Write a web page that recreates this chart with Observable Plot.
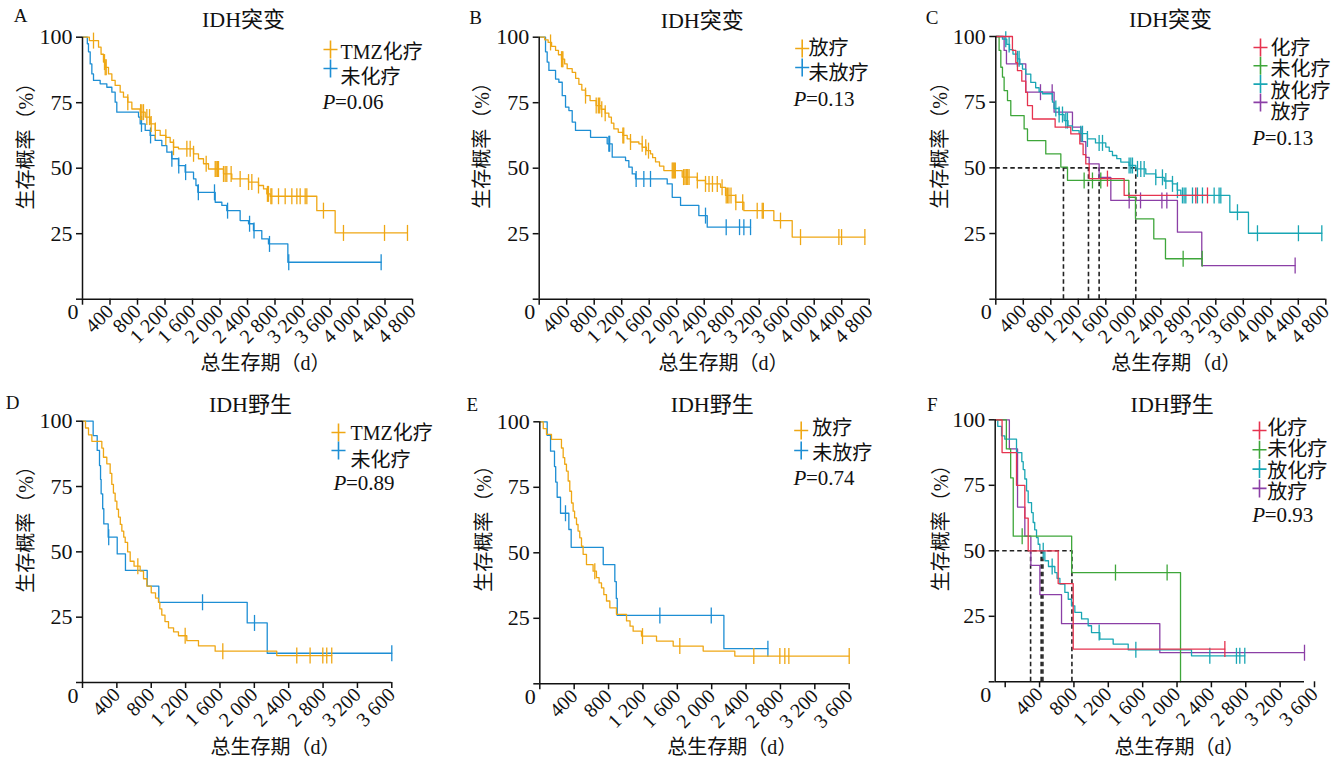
<!DOCTYPE html>
<html><head><meta charset="utf-8">
<script src="https://cdn.jsdelivr.net/npm/d3@7"></script>
<script src="https://cdn.jsdelivr.net/npm/@observablehq/plot@0.6"></script>
<style>
body{margin:0;background:#fff;}
#root{position:relative;width:1344px;height:760px;overflow:hidden;background:#fff;}
#root svg{position:absolute;}
</style></head><body><div id="root"></div>
<script>
// ---------------- DATA ----------------
const ticksLong = [0,400,800,1200,1600,2000,2400,2800,3200,3600,4000,4400,4800];
const ticksShort = [0,400,800,1200,1600,2000,2400,2800,3200,3600];
const yTicks = [0,25,50,75,100];
const titles = ["IDH突变","IDH突变","IDH突变","IDH野生","IDH野生","IDH野生"];
const letters = ["A","B","C","D","E","F"];
const pValues = ["0.06","0.13","0.13","0.89","0.74","0.93"];
const xAxisLabel = "总生存期（d）";
const yAxisLabel = "生存概率（%）";

// Panel A
const A_tmz_ev = [[0,100],[100,98.7],[233,96.2],[270,93.5],[305,90.5],[330,88.5],[378,86],[427,83.5],[475,81.6],[548,79],[596,77.1],[659,75.2],[718,72.6],[839,71.4],[912,69.5],[984,66.9],[1057,64.4],[1130,62.5],[1212,61.8],[1275,59.9],[1324,58],[1396,57.4],[1615,55.5],[1687,53.6],[1760,51.7],[1833,49.7],[2051,47.8],[2172,45.9],[2415,44.7],[2560,43.4],[2633,42.1],[2681,40.2],[2730,39.3],[3408,33.8],[3675,25.3]];
const A_tmz_cz = [160,320,330,345,659,845,863,887,936,975,999,1060,1212,1324,1518,1566,1615,1799,1930,1944,1964,1978,2051,2075,2099,2162,2293,2415,2463,2560,2690,2705,2740,2754,2851,2948,3045,3118,3166,3239,3263,3505,3796,4393,4727];
const A_no_ev = [[0,100],[70,97.5],[87,94.4],[112,89.8],[136,86],[160,83.5],[257,82.2],[354,80.9],[427,79],[475,75.2],[499,71.4],[815,69.5],[839,66.9],[912,64.4],[984,62.5],[1057,60.6],[1154,58.6],[1227,56.1],[1299,53.6],[1396,51],[1493,48.5],[1615,45.9],[1650,43.4],[1678,40.8],[1930,37],[2027,35.8],[2099,33.8],[2293,30],[2415,28.8],[2487,26.2],[2608,23],[2705,21.1],[2987,14.1]];
const A_no_cz = [858,990,1300,1400,1500,1685,1920,2110,2430,2495,2720,3000,4344];

// Panel B
const B_rt_ev = [[0,100],[80,99],[130,98],[180,96.5],[238,95],[280,93.3],[325,91.6],[370,89.8],[407,88],[480,86.6],[530,84.3],[577,82],[620,79.8],[674,77.7],[740,75.8],[829,73.9],[900,72.5],[960,71],[1013,69.5],[1050,67.2],[1086,65],[1150,63.7],[1217,62.5],[1280,61.2],[1328,60],[1450,59.3],[1500,58],[1560,56.7],[1619,55.5],[1650,54],[1692,52.4],[1750,50.8],[1813,49.1],[2080,46.6],[2298,45.3],[2419,44],[2638,42.7],[2710,39.6],[2856,37],[2977,33.8],[3413,30],[3680,23.7]];
const B_rt_cz = [165,325,335,345,674,829,860,880,910,960,1217,1230,1328,1498,1550,1590,1935,1950,1965,1980,2100,2120,2140,2160,2180,2300,2419,2470,2520,2590,2660,2720,2740,2760,2790,2860,2960,3171,3244,3260,3510,3801,4359,4398,4737];
const B_no_ev = [[0,100],[92,94.4],[116,90.5],[141,87.3],[238,84],[286,82.8],[335,77.7],[383,73.3],[432,72],[480,67.6],[528,64.4],[747,61.8],[989,59.3],[1062,54.2],[1256,52.9],[1304,50.4],[1353,47.8],[1401,45.9],[1862,44],[1935,38.9],[2056,35.8],[2322,31.9],[2444,27.5]];
const B_no_cz = [1013,1025,1410,1522,1619,2419,2720,2914,2977,3074];

// Panel C
const C_chemo_ev = [[0,100],[242,94.7],[291,90],[315,87],[378,83],[436,78.7],[461,73.7],[533,68.6],[863,65.5],[1091,62.9],[1222,59.1],[1270,55],[1309,51.5],[1358,45.9],[1867,39.5]];
const C_chemo_cz = [1624,2909,3079];
const C_none_ev = [[0,100],[48,94.7],[73,88.3],[97,84.5],[121,79.4],[170,75.6],[218,69.9],[412,64.8],[461,60.4],[727,55.3],[946,50.3],[1043,45.2],[1935,38.8],[2032,30.6],[2298,23],[2468,15.4]];
const C_none_cz = [1285,1406,1527,2725,3002];
const C_both_ev = [[0,100],[97,99],[160,97],[200,95],[250,93.3],[315,91.5],[350,89.5],[388,87.6],[436,85.7],[509,82.5],[580,80.5],[630,79],[679,78.2],[824,75],[848,72.6],[920,70.3],[994,68],[1050,66],[1115,64.2],[1212,63],[1333,61],[1450,59.5],[1600,57.9],[1650,56.3],[1697,54.7],[1760,53.5],[1818,52.2],[1939,50.9],[2036,49.6],[2182,47.7],[2327,46.4],[2450,45],[2570,43.9],[2640,41.5],[2691,39.5],[3404,33.1],[3675,25.1]];
const C_both_cz = [145,194,315,339,873,921,970,1018,1042,1236,1261,1333,1503,1552,1939,1964,1988,2061,2109,2158,2327,2424,2473,2570,2642,2715,2739,2764,2861,2933,3006,3176,3248,3273,3515,3806,4402,4742];
const C_rt_ev = [[0,100],[121,94.7],[155,89.6],[436,78.8],[848,71.2],[1115,65.5],[1240,60],[1309,54],[1358,51.5],[1503,46.4],[1673,37.6],[2642,25.5],[2996,12.8]];
const C_rt_cz = [650,820,1940,2105,2416,2488,4354];
const C_medians = [984,1348,1503,2036];

// Panel D
const D_tmz_ev = [[0,100],[35,97.4],[70,94.8],[109,92.3],[225,89.7],[244,86.2],[283,83.7],[322,80],[341,75.8],[360,72.5],[380,69.4],[400,66.3],[419,63.3],[440,60.5],[458,57.9],[480,55.6],[497,53.6],[525,50],[555,46.4],[600,44.5],[671,42.6],[710,39.7],[749,36.9],[800,34.3],[850,32.3],[884,30.7],[900,28.2],[923,25.8],[960,23.3],[1001,20.9],[1060,19.4],[1117,17.9],[1214,16],[1350,14],[1544,12],[2261,10.3]];
const D_tmz_cz = [644,1195,1633,2494,2649,2797,2843,2901];
const D_no_ev = [[0,100],[124,94.5],[171,88.8],[198,83],[210,77.7],[217,72.2],[235,66.5],[248,60.7],[299,55.6],[404,49.2],[500,42.9],[753,36.9],[888,30.7],[1917,22.8],[2150,11.2]];
const D_no_cz = [305,1397,2002,3600];

// Panel E
const E_rt_ev = [[0,100],[40,97.4],[78,95.2],[136,93.3],[252,90],[272,86.3],[290,83.8],[310,81.2],[330,77.4],[349,73.5],[369,69],[388,65.9],[405,63.3],[427,60.8],[445,58.3],[465,55.7],[485,52.5],[504,49.4],[543,45.5],[620,43],[659,40.5],[690,38.5],[718,36.6],[745,34],[776,31.6],[815,29],[892,26.5],[1009,24],[1050,22],[1086,20.1],[1183,18.2],[1358,16.3],[1552,14.4],[1901,12.5],[2269,10.6]];
const E_rt_cz = [640,1195,1629,2490,2793,2851,2898,3600];
const E_no_ev = [[0,100],[86,94.8],[125,88.8],[171,82.9],[185,77],[202,71.2],[241,65.1],[338,58.9],[365,52.1],[738,45.5],[873,39],[890,32.6],[901,26.1],[2142,13.4]];
const E_no_cz = [299,1397,1995,2654];

// Panel F
const F_chemo_ev = [[0,100],[80,87.5],[248,75],[345,62.5],[384,50],[733,37.5],[908,12.5]];
const F_chemo_cz = [2673];
const F_none_ev = [[0,100],[130,88.9],[180,77.8],[210,55.6],[890,41.7],[2157,0]];
const F_none_cz = [314,1400,2001];
const F_both_ev = [[0,100],[30,97.5],[74,93.9],[112,92.6],[248,87.5],[310,84],[326,81],[345,77.4],[365,72.9],[384,68.4],[423,64.6],[442,60.8],[460,58],[481,55],[500,52.5],[520,50],[578,46.2],[620,44],[694,41.7],[720,39.5],[753,37.3],[811,34.1],[850,31.5],[888,29],[927,26.5],[1005,24],[1082,21.4],[1121,18.8],[1218,16.3],[1373,14.4],[1548,12.2],[2285,9.9]];
const F_both_cz = [559,663,1210,1637,2498,2808,2847,2905];
const F_rt_ev = [[0,100],[165,88.9],[260,66.7],[345,55.6],[415,44.4],[520,33.3],[772,22.2],[1916,11.1]];
const F_rt_cz = [3600];
const F_medians = [412,535,555,893];

// ---------------- STYLE / LAYOUT ----------------
const ORANGE="#EFA714", BLUE="#1D8ED4", RED="#E6334F", GREEN="#3EA63A", CYAN="#19A6B4", PURPLE="#8B3FA6";
const FONT = "'Liberation Serif','Times New Roman','Noto Sans CJK SC',serif";

const panels = [
  {i:0, left:0, top:0, m:[36.7,36,81.3,82], xMax:4800, xTicks:ticksLong,
   series:[{name:"TMZ化疗",color:ORANGE,ev:A_tmz_ev,cz:A_tmz_cz},{name:"未化疗",color:BLUE,ev:A_no_ev,cz:A_no_cz}],
   L:{letter:[-62,-21.7], title:[-4,-17.7], xl:[18,64.3], yl:[-56.3,-27], cross:[248,12.3,19], lab:[258,15.3,25], p:[240,65.3]}},
  {i:1, left:448, top:0, m:[36.7,27.3,81.3,90.7], xMax:4800, xTicks:ticksLong,
   series:[{name:"放疗",color:ORANGE,ev:B_rt_ev,cz:B_rt_cz},{name:"未放疗",color:BLUE,ev:B_no_ev,cz:B_no_cz}],
   L:{letter:[-63.7,-19.7], title:[-2,-16.7], xl:[19.3,64.3], yl:[-56.4,-27.7], cross:[263,11.3,19], lab:[269.3,11.3,25], p:[254.3,62.3]}},
  {i:2, left:896, top:0, m:[36,18.7,81.3,99.3], xMax:4800, xTicks:ticksLong, medians:C_medians,
   series:[{name:"化疗",color:RED,ev:C_chemo_ev,cz:C_chemo_cz},{name:"未化疗",color:GREEN,ev:C_none_ev,cz:C_none_cz},{name:"放化疗",color:CYAN,ev:C_both_ev,cz:C_both_cz},{name:"放疗",color:PURPLE,ev:C_rt_ev,cz:C_rt_cz}],
   L:{letter:[-63.6,-19], title:[9.7,-17], xl:[15.5,64.3], yl:[-55.3,-27.4], cross:[264.7,11,18.3], lab:[274.7,12,21.3], p:[256.4,102]}},
  {i:3, left:0, top:380, m:[40.7,56.7,78,82], xMax:3600, xTicks:ticksShort,
   series:[{name:"TMZ化疗",color:ORANGE,ev:D_tmz_ev,cz:D_tmz_cz},{name:"未化疗",color:BLUE,ev:D_no_ev,cz:D_no_cz}],
   L:{letter:[-70,-18.7], title:[13.3,-16.7], xl:[38.3,64.7], yl:[-56.3,-27.4], cross:[256,11.3,18], lab:[268,12.3,27], p:[251,62.3]}},
  {i:4, left:448, top:380, m:[41.3,47.3,76.7,91.3], xMax:3600, xTicks:ticksShort,
   series:[{name:"放疗",color:ORANGE,ev:E_rt_ev,cz:E_rt_cz},{name:"未放疗",color:BLUE,ev:E_no_ev,cz:E_no_cz}],
   L:{letter:[-67.6,-17.3], title:[17.7,-17.3], xl:[37.7,63.7], yl:[-55.3,-29.3], cross:[261.4,8.7,20], lab:[272.4,6.7,25], p:[253.7,56.7]}},
  {i:5, left:896, top:380, m:[39.3,40,78.7,98.7], xMax:3600, xTicks:ticksShort, medians:F_medians, tickDx:10,
   series:[{name:"化疗",color:RED,ev:F_chemo_ev,cz:F_chemo_cz},{name:"未化疗",color:GREEN,ev:F_none_ev,cz:F_none_cz},{name:"放化疗",color:CYAN,ev:F_both_ev,cz:F_both_cz},{name:"放疗",color:PURPLE,ev:F_rt_ev,cz:F_rt_cz}],
   L:{letter:[-63,-15.3], title:[22.3,-15.3], xl:[29.7,65.4], yl:[-53.7,-27.8], cross:[264.3,10.7,19.3], lab:[272,8.7,21.3], p:[257,95.7]}}
];

const vbar = {draw(ctx, size){ const r = Math.sqrt(size/Math.PI); ctx.moveTo(0,-r); ctx.lineTo(0,r); }};
const cross = {draw(ctx, size){ const r = Math.sqrt(size/Math.PI); ctx.moveTo(-r*0.78,0); ctx.lineTo(r*0.78,0); ctx.moveTo(0,-r); ctx.lineTo(0,r); }};

const fmtDay = d => d === 0 ? "" : d >= 1000 ? `${Math.floor(d/1000)} ${String(d%1000).padStart(3,"0")}` : String(d);

function stepPoints(ev, cz){
  const pts = ev.map(([t,s]) => ({t, s}));
  const last = pts[pts.length-1];
  const end = Math.max(last.t, ...cz);
  if (end > last.t) pts.push({t:end, s:last.s});
  return pts;
}
function survAt(ev, t){ let s = 100; for (const [et, es] of ev) if (et <= t) s = es; return s; }

const root = document.getElementById("root");
for (const P of panels){
  const [mt, mr, mb, ml] = P.m;
  const L = P.L;
  const txt = (content, opts) => Plot.text([content], {text: d => d, fill:"#111", lineAnchor:"middle", ...opts});
  const marks = [];
  if (P.medians){
    const mx = d3.max(P.medians);
    marks.push(Plot.ruleY([50], {x1: () => 0, x2: () => mx, stroke:"#222", strokeWidth:1.6, strokeDasharray:"4.5,3"}));
    marks.push(Plot.ruleX(P.medians, {x: d => d, y1: () => 0, y2: () => 50, stroke:"#222", strokeWidth:1.6, strokeDasharray:"4.5,3"}));
  }
  for (const s of [...P.series].reverse()){
    marks.push(Plot.line(stepPoints(s.ev, s.cz), {x:"t", y:"s", curve:"step-after", stroke:s.color, strokeWidth:1.3}));
    marks.push(Plot.dot(s.cz.map(t => ({t, s: survAt(s.ev, t)})), {x:"t", y:"s", symbol: vbar, r:8, stroke:s.color, strokeWidth:1.3, fill:"none"}));
  }
  marks.push(Plot.ruleX([0], {stroke:"#111", strokeWidth:1.5}));
  marks.push(Plot.ruleY([0], {stroke:"#111", strokeWidth:1.5}));
  marks.push(Plot.axisY({ticks: yTicks, tickFormat: d => d === 0 ? "" : String(d), tickSize:6, tickPadding:4, fontSize:22, strokeWidth:1.5, label:null, fill:"#111"}));
  marks.push(Plot.axisX({ticks: P.xTicks, tickFormat: fmtDay, tickRotate:-45, tickSize:6, tickPadding:3, fontSize:20, strokeWidth:1.5, label:null, fill:"#111", dx: P.tickDx || 0}));
  marks.push(txt("0", {frameAnchor:"bottom-left", dx:-4, dy:13, textAnchor:"end", fontSize:22}));
  marks.push(txt(letters[P.i], {frameAnchor:"top-left", dx:L.letter[0], dy:L.letter[1], textAnchor:"middle", fontSize:19}));
  marks.push(txt(titles[P.i], {frameAnchor:"top", dx:L.title[0], dy:L.title[1], textAnchor:"middle", fontSize:22}));
  marks.push(txt(xAxisLabel, {frameAnchor:"bottom", dx:L.xl[0], dy:L.xl[1], textAnchor:"middle", fontSize:20}));
  marks.push(txt(yAxisLabel, {frameAnchor:"left", dx:L.yl[0], dy:L.yl[1], textAnchor:"middle", rotate:-90, fontSize:20}));
  P.series.forEach((s, k) => {
    marks.push(Plot.dot([s.name], {frameAnchor:"top-left", dx:L.cross[0], dy:L.cross[1] + k*L.cross[2], symbol:cross, r:9, stroke:s.color, strokeWidth:1.6, fill:"none"}));
    marks.push(txt(s.name, {frameAnchor:"top-left", dx:L.lab[0], dy:L.lab[1] + k*L.lab[2], textAnchor:"start", fontSize:20}));
  });
  marks.push(txt("P", {frameAnchor:"top-left", dx:L.p[0], dy:L.p[1], textAnchor:"start", fontSize:21, fontStyle:"italic"}));
  marks.push(txt("=" + pValues[P.i], {frameAnchor:"top-left", dx:L.p[0] + 12.5, dy:L.p[1], textAnchor:"start", fontSize:21}));

  const svg = Plot.plot({
    width: 448, height: 380,
    marginTop: mt, marginRight: mr, marginBottom: mb, marginLeft: ml,
    x: {domain:[0, P.xMax], axis:null},
    y: {domain:[0, 100], axis:null},
    style: {fontFamily: FONT, fontSize:"20px", background:"transparent", overflow:"visible", color:"#111"},
    marks
  });
  // make sure tick labels get the intended size
  svg.querySelectorAll('g[aria-label="y-axis tick label"]').forEach(g => g.setAttribute("font-size", "22"));
  svg.querySelectorAll('g[aria-label="x-axis tick label"]').forEach(g => g.setAttribute("font-size", "20"));
  svg.style.left = P.left + "px";
  svg.style.top = P.top + "px";
  root.appendChild(svg);
}
</script>
</body></html>
